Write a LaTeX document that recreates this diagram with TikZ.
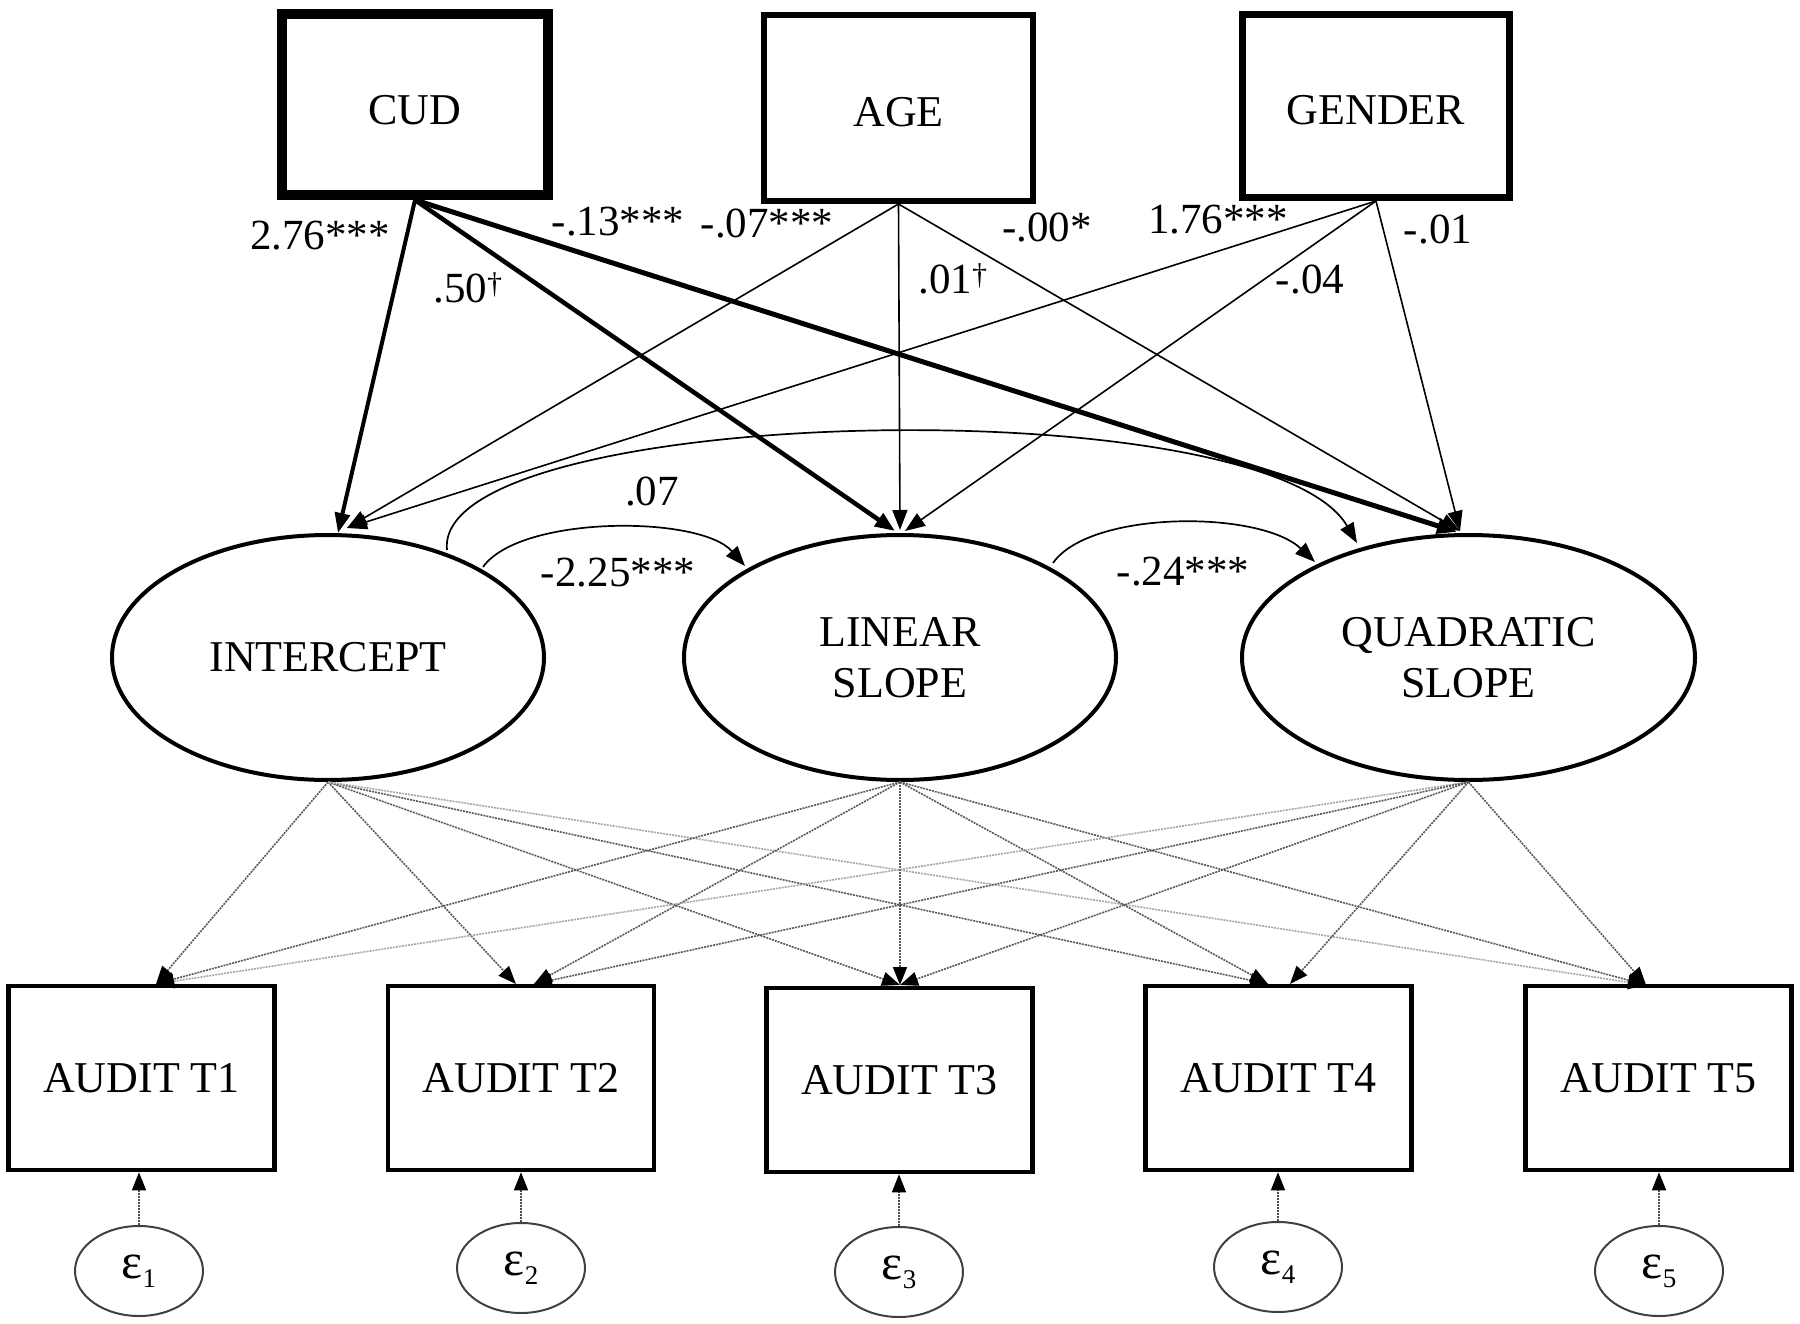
\documentclass[tikz,border=0pt]{standalone}
\usepackage{fontspec}
\setmainfont{Liberation Serif}
\usetikzlibrary{arrows.meta,shapes.geometric}
\begin{document}
\begin{tikzpicture}[x=1pt,y=-1pt,
  every node/.style={font=\fontsize{44}{51}\selectfont},
  obs/.style={draw, rectangle, inner sep=0pt, line width=4.5pt, minimum width=266pt, minimum height=184pt},
  pred/.style={draw, rectangle, inner sep=0pt, text depth=0pt},
  lat/.style={draw, ellipse, inner sep=0pt, line width=4pt, minimum height=245pt, align=center},
  err/.style={draw=black!75, ellipse, inner sep=0pt, line width=2pt, minimum width=128pt, minimum height=90pt, font=\fontsize{50}{50}\selectfont},
  coef/.style={inner sep=0pt, font=\fontsize{43}{50}\selectfont},
  tipA/.style={-{Triangle[length=20pt,width=15pt]}},
  cudarrow/.style={tipA},
  predarrow/.style={tipA, line width=1.6pt},
  cov/.style={tipA, line width=1.7pt},
  load/.style={-{Triangle[length=18pt,width=14pt,color=black]}, line width=1.6pt, draw=black!65, dash pattern=on 2pt off 1pt},
  loadlight/.style={load, draw=black!35},
  errarrow/.style={-{Triangle[length=18pt,width=14pt,color=black]}, line width=1.4pt, draw=black!70, dash pattern=on 2pt off 1pt},
]
\useasboundingbox (0,0) rectangle (1800,1324);

% predictors
\node[pred, line width=10pt, minimum width=266pt, minimum height=181pt, text height=41pt] (cud) at (415,104.5) {CUD};
\node[pred, line width=6pt, minimum width=269pt, minimum height=186pt, text height=37pt] (age) at (898.5,108) {AGE};
\node[pred, line width=7pt, minimum width=267pt, minimum height=183pt, text height=38pt] (gen) at (1376,106) {GENDER};

% latent factors
\node[lat, minimum width=432pt] (int) at (328,657.5) {INTERCEPT};
\node[lat, minimum width=432pt] (lin) at (900,657.5) {LINEAR\\SLOPE};
\node[lat, minimum width=453pt] (quad) at (1468.5,657.5) {QUADRATIC\\SLOPE};

% observed
\node[obs] (t1) at (141.5,1078) {AUDIT T1};
\node[obs] (t2) at (521,1078) {AUDIT T2};
\node[obs] (t3) at (899.5,1080) {AUDIT T3};
\node[obs] (t4) at (1278.5,1078) {AUDIT T4};
\node[obs] (t5) at (1658.5,1078) {AUDIT T5};

% errors
\node[err] (e1) at (139,1271) {ε\raisebox{-9pt}{\fontsize{27}{27}\selectfont 1}};
\node[err] (e2) at (521,1268) {ε\raisebox{-9pt}{\fontsize{27}{27}\selectfont 2}};
\node[err] (e3) at (899,1272) {ε\raisebox{-9pt}{\fontsize{27}{27}\selectfont 3}};
\node[err] (e4) at (1278,1267) {ε\raisebox{-9pt}{\fontsize{27}{27}\selectfont 4}};
\node[err] (e5) at (1659,1271) {ε\raisebox{-9pt}{\fontsize{27}{27}\selectfont 5}};

% arrow tip coordinates on latent tops
\coordinate (iA) at (338,533);
\coordinate (iB) at (347,528);
\coordinate (lA) at (895,531);
\coordinate (lB) at (900,530);
\coordinate (lC) at (905,531);
\coordinate (qA) at (1457,532);
\coordinate (qB) at (1460,531);

% arrow tip coordinates on AUDIT tops
\coordinate (a1) at (156,984);
\coordinate (a2L) at (516,984);
\coordinate (a2R) at (534,984);
\coordinate (a3) at (900,985);
\coordinate (a4L) at (1268,984);
\coordinate (a4R) at (1290,984);
\coordinate (a5) at (1646,985);

% CUD paths
\draw[cudarrow, line width=4pt] (cud.south) -- (iA);
\draw[cudarrow, line width=4.5pt] (cud.south) -- (lA);
\draw[cudarrow, line width=5pt] (cud.south) -- (qA);
% AGE paths
\draw[predarrow] (age.south) -- (iB);
\draw[predarrow] (age.south) -- (lB);
\draw[predarrow] (age.south) -- (qB);
% GENDER paths
\draw[predarrow] (gen.south) -- (iB);
\draw[predarrow] (gen.south) -- (lC);
\draw[predarrow] (gen.south) -- (qB);

% covariances
\coordinate (c1s) at (447,550);
\coordinate (c1e) at (1357,543);
\coordinate (c2s) at (483,567);
\coordinate (c2e) at (745,566);
\coordinate (c3s) at (1053,563);
\coordinate (c3e) at (1315,562);
\draw[cov] (c1s) .. controls (432,405) and (1265,385) .. (c1e);
\draw[cov] (c2s) .. controls (520,515) and (700,515) .. (c2e);
\draw[cov] (c3s) .. controls (1090,510) and (1260,510) .. (c3e);

% loadings
\draw[load] (int.south) -- (a1);
\draw[load] (int.south) -- (a2L);
\draw[load] (int.south) -- (a3);
\draw[load] (int.south) -- (a4L);
\draw[loadlight] (int.south) -- (a5);
\draw[load] (lin.south) -- (a1);
\draw[load] (lin.south) -- (a2R);
\draw[load] (lin.south) -- (a3);
\draw[load] (lin.south) -- (a4L);
\draw[load] (lin.south) -- (a5);
\draw[loadlight] (quad.south) -- (a1);
\draw[load] (quad.south) -- (a2R);
\draw[load] (quad.south) -- (a3);
\draw[load] (quad.south) -- (a4R);
\draw[load] (quad.south) -- (a5);

% errors to observed
\draw[errarrow] (e1.north) -- (e1.north |- t1.south);
\draw[errarrow] (e2.north) -- (e2.north |- t2.south);
\draw[errarrow] (e3.north) -- (e3.north |- t3.south);
\draw[errarrow] (e4.north) -- (e4.north |- t4.south);
\draw[errarrow] (e5.north) -- (e5.north |- t5.south);

% coefficient labels
\node[coef] (l1) at (320,236) {2.76***};
\node[coef] (l2) at (468,288) {.50\textsuperscript{†}};
\node[coef] (l3) at (618,222) {-.13***};
\node[coef] (l4) at (767,224) {-.07***};
\node[coef] (l5) at (953,279) {.01\textsuperscript{†}};
\node[coef] (l6) at (1047,228) {-.00*};
\node[coef] (l7) at (1218,220) {1.76***};
\node[coef] (l8) at (1310,280) {-.04};
\node[coef] (l9) at (1438,230) {-.01};
\node[coef] (l10) at (652,492) {.07};
\node[coef] (l11) at (618,573) {-2.25***};
\node[coef] (l12) at (1183,572) {-.24***};
\end{tikzpicture}
\end{document}
